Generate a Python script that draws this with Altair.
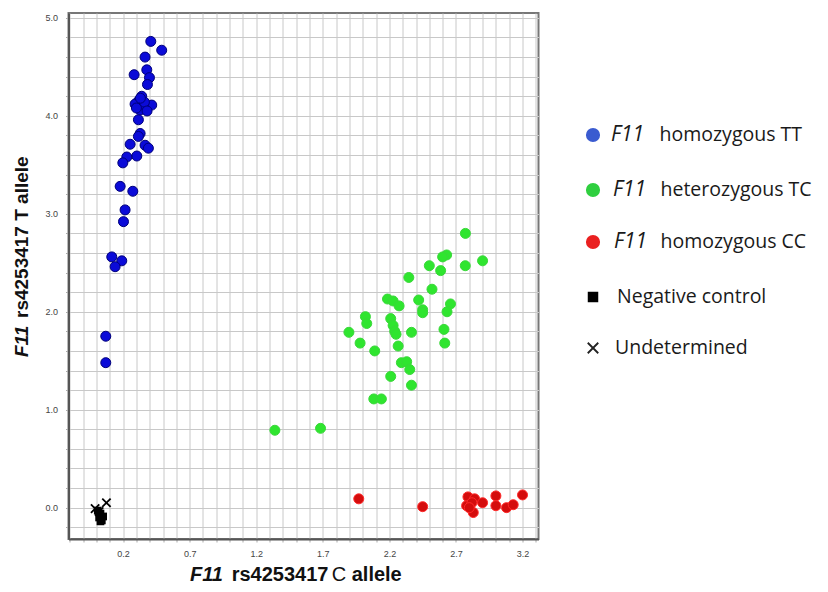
import altair as alt
import pandas as pd

# ---------------- data ----------------
tt_x = [0.408, 0.49, 0.365, 0.378, 0.283, 0.398, 0.383, 0.34, 0.315, 0.29, 0.415, 0.353, 0.328,
        0.30, 0.36, 0.33, 0.38, 0.315, 0.328, 0.315, 0.253, 0.365, 0.39, 0.303, 0.228, 0.198,
        0.178, 0.273, 0.215, 0.203, 0.115, 0.19, 0.14, 0.07, 0.07]
tt_y = [4.76, 4.67, 4.60, 4.47, 4.42, 4.39, 4.32, 4.20, 4.15, 4.12, 4.11, 4.09, 4.06,
        4.08, 4.14, 4.18, 4.05, 3.96, 3.82, 3.79, 3.71, 3.70, 3.67, 3.59, 3.58, 3.52,
        3.28, 3.23, 3.04, 2.92, 2.56, 2.52, 2.46, 1.75, 1.48]

tc_x = [2.771, 2.63, 2.60, 2.90, 2.77, 2.50, 2.585, 2.346, 2.52, 2.186, 2.228, 2.42, 2.273,
        2.659, 2.45, 2.45, 2.633, 2.02, 2.03, 2.21, 2.228, 2.24, 2.25, 1.896, 2.366, 2.61,
        1.98, 2.616, 2.09, 2.266, 2.29, 2.33, 2.353, 2.21, 2.366, 2.083, 2.14, 1.683, 1.34]
tc_y = [2.80, 2.58, 2.56, 2.52, 2.47, 2.47, 2.42, 2.35, 2.23, 2.13, 2.11, 2.12, 2.06,
        2.08, 2.02, 1.99, 2.00, 1.95, 1.88, 1.93, 1.86, 1.80, 1.77, 1.79, 1.79, 1.82,
        1.68, 1.68, 1.60, 1.65, 1.48, 1.49, 1.41, 1.34, 1.25, 1.11, 1.11, 0.81, 0.79]

cc_x = [1.97, 2.45, 2.79, 2.84, 2.78, 2.82, 2.83, 2.90, 3.00, 3.00, 3.08, 3.13, 3.20, 2.80]
cc_y = [0.09, 0.01, 0.11, 0.09, 0.02, 0.05, -0.05, 0.05, 0.12, 0.02, 0.00, 0.03, 0.13, 0.00]

neg_x = [0.03, 0.02, 0.04, 0.01, 0.05, 0.03]
neg_y = [-0.06, -0.10, -0.13, -0.03, -0.09, -0.14]

und_x = [0.075, -0.01, 0.02]
und_y = [0.05, -0.01, -0.04]

x_tick_labels = [0.2, 0.7, 1.2, 1.7, 2.2, 2.7, 3.2]
y_tick_labels = [0.0, 1.0, 2.0, 3.0, 4.0, 5.0]

legend_italic = ["F11", "F11", "F11", "", ""]
legend_rest = ["homozygous TT", "heterozygous TC", "homozygous CC", "Negative control", "Undetermined"]

x_title_parts = ["F11", "rs4253417", "C", "allele"]
y_title_it, y_title_rest = "F11", "rs4253417 T allele"

# ---------------- layout / style ----------------
X_DOMAIN = [-0.21, 3.32]
Y_DOMAIN = [-0.32, 5.05]
x_grid = [round(-0.2 + 0.1 * i, 1) for i in range(36)]
y_grid = [round(-0.2 + 0.2 * i, 1) for i in range(27)]

xlab = ("indexof(" + str(x_tick_labels) +
        ", round(datum.value*10)/10) >= 0 ? format(datum.value, '.1f') : ''")
ylab = ("indexof(" + str(y_tick_labels) +
        ", round(datum.value*10)/10) >= 0 ? format(datum.value, '.1f') : ''")

axis_common = dict(title=None, grid=True, gridColor="#c8c8c8", gridWidth=1,
                   tickSize=3, tickColor="#aaaaaa", labelFontSize=9, labelColor="#444444",
                   labelFont="Liberation Sans", labelOverlap=False, labelFlush=False,
                   domainColor="#555555", domainWidth=2)

X = alt.X("x:Q", scale=alt.Scale(domain=X_DOMAIN, nice=False, zero=False),
          axis=alt.Axis(values=x_grid, labelExpr=xlab, labelPadding=7, **axis_common))
Y = alt.Y("y:Q", scale=alt.Scale(domain=Y_DOMAIN, nice=False, zero=False),
          axis=alt.Axis(values=y_grid, labelExpr=ylab, labelPadding=8, **axis_common))


def df(xs, ys):
    return pd.DataFrame({"x": xs, "y": ys})


def dots(xs, ys, fill, stroke):
    return alt.Chart(df(xs, ys)).mark_circle(
        size=100, fill=fill, stroke=stroke, strokeWidth=1, opacity=1
    ).encode(x=X, y=Y)


XPATH = "M-1,-1L1,1M-1,1L1,-1"

layers = [
    dots(tt_x, tt_y, "#0b0bd8", "#00007a"),
    dots(tc_x, tc_y, "#2fe52f", "#3ad83a"),
    dots(cc_x, cc_y, "#d40d0d", "#ff2a2a"),
    alt.Chart(df(neg_x, neg_y)).mark_square(size=60, color="#000000", opacity=1).encode(x=X, y=Y),
    alt.Chart(df(und_x, und_y)).mark_point(shape=XPATH, size=70, stroke="#000000",
                                          strokeWidth=1.8, filled=False, opacity=1).encode(x=X, y=Y),
]

one = pd.DataFrame({"a": [0]})

# legend (drawn as annotation)
leg_y = [122, 177, 229, 284, 335]
sym_x = 524.5
sym_specs = [
    dict(kind="circle", color="#3a5bd0"),
    dict(kind="circle", color="#2fcf3f"),
    dict(kind="circle", color="#ea2020"),
    dict(kind="square", color="#000000"),
    dict(kind="x", color="#222222"),
]
it_x = [542.5, 544.5, 545.5]
rest_x = [591, 592, 592, 548.5, 546.5]
LEG_FONT = "Open Sans"
LEG_SIZE = 19.5

for i, spec in enumerate(sym_specs):
    yv = alt.value(leg_y[i])
    if spec["kind"] == "circle":
        m = alt.Chart(one).mark_circle(size=200, color=spec["color"], opacity=1)
    elif spec["kind"] == "square":
        m = alt.Chart(one).mark_square(size=110, color=spec["color"], opacity=1)
    else:
        m = alt.Chart(one).mark_point(shape=XPATH, size=110, stroke=spec["color"],
                                      strokeWidth=1.8, filled=False, opacity=1)
    layers.append(m.encode(x=alt.value(sym_x), y=yv))
    if legend_italic[i]:
        layers.append(alt.Chart(one).mark_text(
            text=legend_italic[i], font=LEG_FONT, fontSize=21, fontStyle="italic",
            align="left", baseline="middle", color="#1a1a1a"
        ).encode(x=alt.value(it_x[i]), y=yv))
    layers.append(alt.Chart(one).mark_text(
        text=legend_rest[i], font=LEG_FONT, fontSize=LEG_SIZE,
        align="left", baseline="middle", color="#1a1a1a"
    ).encode(x=alt.value(rest_x[i]), y=yv))

# axis titles (F11 in italic)
TF = "Liberation Sans"
XT_Y = 568
x_title_x = [121.5, 163.2, 263.2, 283.2]
x_title_style = [dict(fontWeight="bold", fontStyle="italic"), dict(fontWeight="bold"),
                 dict(fontWeight="normal"), dict(fontWeight="bold")]
for txt, xv, st in zip(x_title_parts, x_title_x, x_title_style):
    layers.append(alt.Chart(one).mark_text(
        text=txt, font=TF, fontSize=20, align="left", baseline="alphabetic",
        color="#111111", **st).encode(x=alt.value(xv), y=alt.value(XT_Y)))

layers += [
    alt.Chart(one).mark_text(text=y_title_it, font=TF, fontSize=19, fontWeight="bold",
                             fontStyle="italic", align="left", baseline="alphabetic", angle=270,
                             color="#111111").encode(x=alt.value(-40.5), y=alt.value(344)),
    alt.Chart(one).mark_text(text=y_title_rest, font=TF, fontSize=19, fontWeight="bold",
                             align="left", baseline="alphabetic", angle=270,
                             color="#111111").encode(x=alt.value(-40.5), y=alt.value(305)),
]

chart = alt.layer(*layers).properties(
    width=470, height=526,
    padding={"left": 60.5, "top": 5, "right": 281.5, "bottom": 45},
    autosize=alt.AutoSizeParams(type="none"),
    background="#ffffff",
).configure_view(stroke="#777777", strokeWidth=2)

chart.save("out.html", embed_options={"renderer": "svg", "actions": False})
